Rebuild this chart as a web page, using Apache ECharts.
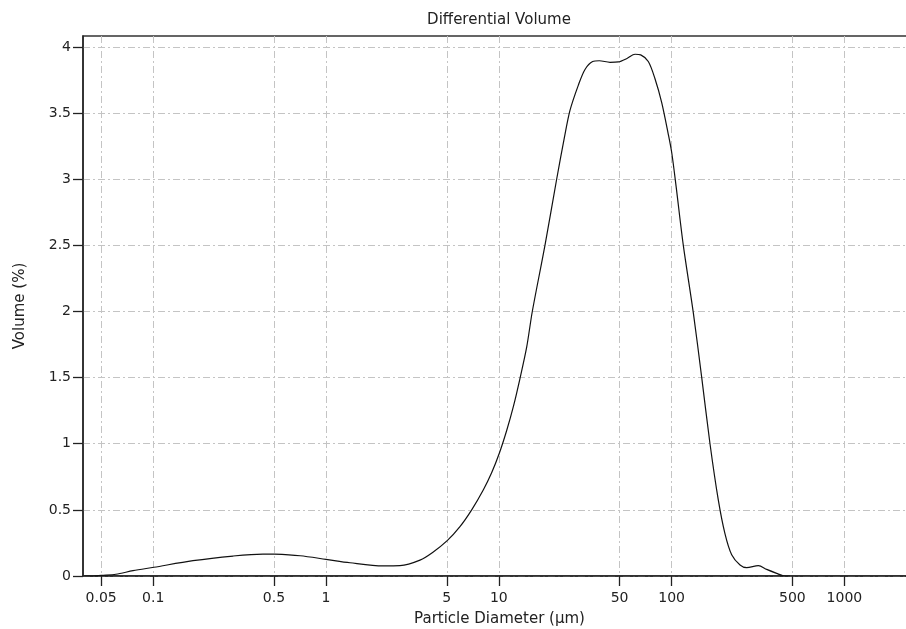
<!DOCTYPE html>
<html>
<head>
<meta charset="utf-8">
<script src="https://cdn.jsdelivr.net/npm/echarts@6/dist/echarts.min.js"></script>
<style>html,body{margin:0;padding:0;background:#fff}#c{width:906px;height:629px}</style>
</head>
<body>
<div id="c"></div>
<script>
var titleText = 'Differential Volume';
var xAxisName = 'Particle Diameter (µm)';
var yAxisName = 'Volume (%)';
var xTicks = [0.05, 0.1, 0.5, 1, 5, 10, 50, 100, 500, 1000];
var yTicks = [0, 0.5, 1, 1.5, 2, 2.5, 3, 3.5, 4];
var diameters = [0.04, 0.045, 0.0501, 0.0609, 0.0764, 0.101, 0.170, 0.290, 0.432, 0.502, 0.708, 1.0, 1.377, 2.136, 2.68, 3.50, 4.16, 5.03, 5.96, 6.97, 8.13, 9.09, 10.07, 11.11, 12.14, 13.27, 14.50, 15.63, 18.50, 21.62, 23.93, 25.82, 28.84, 31.54, 34.94, 38.17, 44.02, 49.19, 55.46, 61.43, 66.25, 73.31, 80.15, 87.66, 95.7, 100.2, 106.1, 116.9, 133.6, 149.4, 166.8, 186.3, 203.6, 222.7, 248.9, 272.1, 317.7, 355.1, 405.6, 443, 484];
var volumes = [0, 0, 0.005, 0.013, 0.04, 0.066, 0.116, 0.151, 0.166, 0.165, 0.153, 0.126, 0.10, 0.076, 0.078, 0.12, 0.18, 0.267, 0.373, 0.50, 0.65, 0.78, 0.928, 1.10, 1.28, 1.495, 1.73, 2.0, 2.5, 3.0, 3.31, 3.52, 3.71, 3.83, 3.89, 3.896, 3.884, 3.887, 3.915, 3.945, 3.94, 3.89, 3.76, 3.58, 3.34, 3.20, 2.95, 2.5, 1.99, 1.5, 1.0, 0.575, 0.32, 0.16, 0.083, 0.063, 0.078, 0.05, 0.02, 0.002, 0];

var data = diameters.map(function (d, i) { return [d, volumes[i]]; });
var font = 'DejaVu Sans, Liberation Sans, sans-serif';
var gridLine = { show: true, lineStyle: { color: '#c4c4c4', width: 1, type: [7, 3, 2, 3] } };

var chart = echarts.init(document.getElementById('c'), null, { renderer: 'canvas' });
chart.setOption({
  animation: false,
  title: { text: titleText, left: 494, textAlign: 'center', top: 8,
    textStyle: { fontFamily: font, fontSize: 15, fontWeight: 'normal', color: '#222' } },
  grid: { left: 83, right: -10, top: 36, bottom: 53, show: true, borderColor: '#333', borderWidth: 1.4,
    containLabel: false, outerBoundsMode: 'none' },
  xAxis: {
    type: 'log', logBase: 10, min: 0.03926, max: 2596,
    name: xAxisName, nameLocation: 'middle', nameGap: 36,
    nameTextStyle: { fontFamily: font, fontSize: 15, color: '#222' },
    axisLine: { show: true, onZero: false, lineStyle: { color: '#222', width: 1.5 } },
    axisTick: { show: true, length: 10, customValues: xTicks, lineStyle: { color: '#222', width: 1.3 } },
    axisLabel: { customValues: xTicks, fontFamily: font, fontSize: 14, color: '#222', margin: 15,
      formatter: function (v) { return String(v); } },
    splitLine: gridLine,
    minorTick: { show: false }, minorSplitLine: { show: false }
  },
  yAxis: {
    type: 'value', min: 0, max: 4.083,
    name: yAxisName, nameLocation: 'middle', nameGap: 55,
    nameTextStyle: { fontFamily: font, fontSize: 15, color: '#222' },
    axisLine: { show: true, lineStyle: { color: '#222', width: 1.5 } },
    axisTick: { show: true, length: 10, customValues: yTicks, lineStyle: { color: '#222', width: 1.3 } },
    axisLabel: { customValues: yTicks, fontFamily: font, fontSize: 14, color: '#222', margin: 12,
      formatter: function (v) { return String(v); } },
    splitLine: gridLine
  },
  series: [{
    type: 'line', data: data, showSymbol: false, smooth: 0.3,
    lineStyle: { color: '#111', width: 1.2 }, clip: true
  }]
});
</script>
</body>
</html>
